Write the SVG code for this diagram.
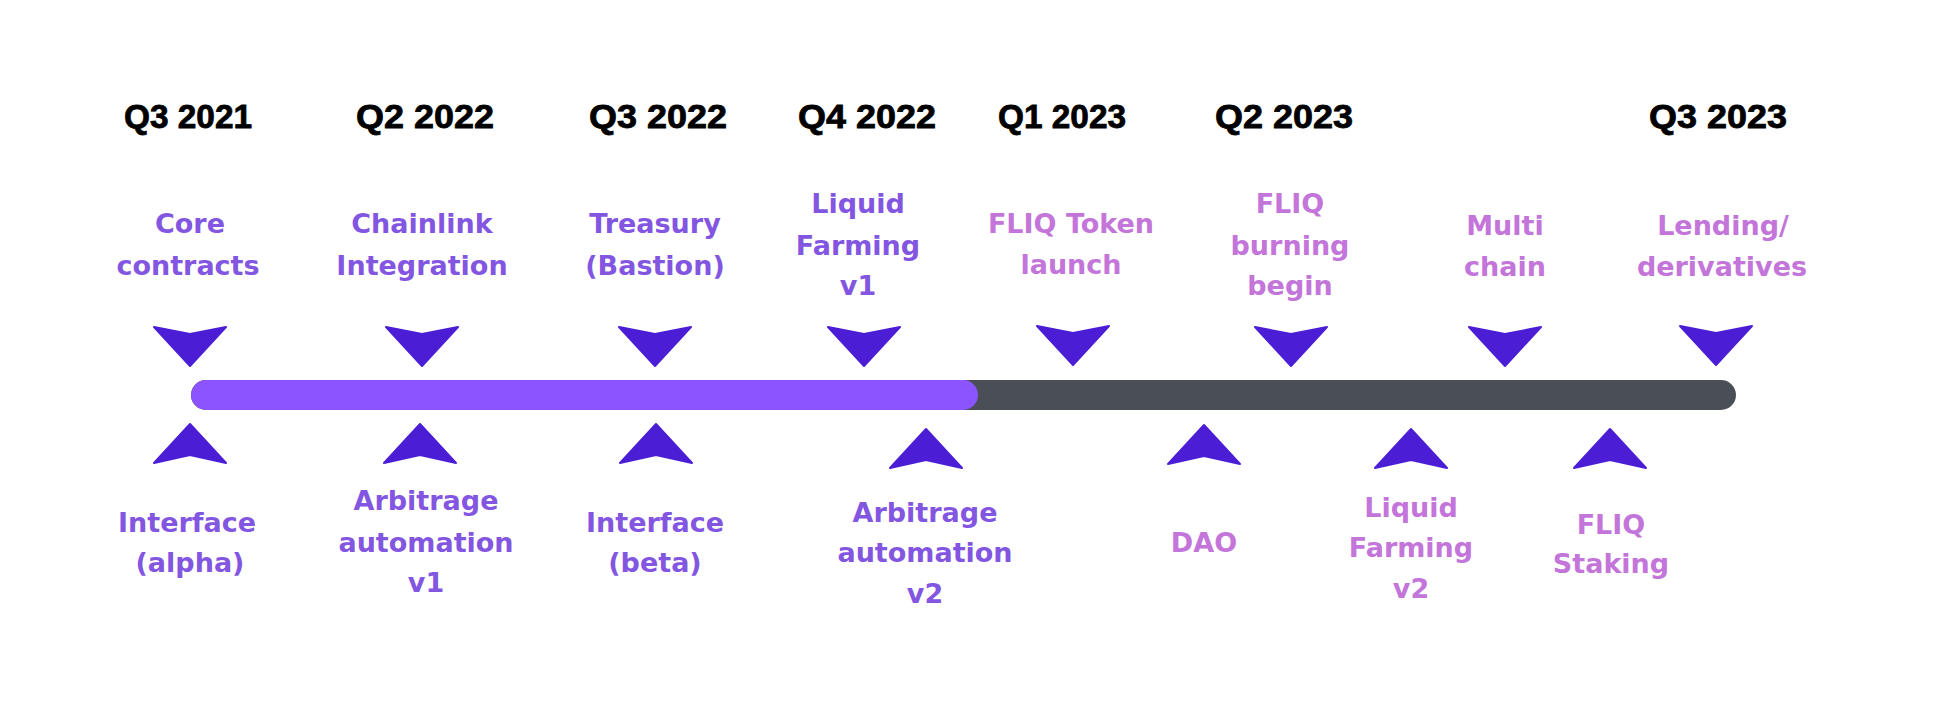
<svg xmlns="http://www.w3.org/2000/svg" xmlns:xlink="http://www.w3.org/1999/xlink" width="1934" height="716" viewBox="0 0 1934 716">
  <style>
    .date { font-family: "Liberation Sans", Arial, sans-serif; font-weight: bold; font-size: 34px; fill: #000000; stroke: #000000; stroke-width: 0.8; text-anchor: middle; }
    .lbl { font-family: "DejaVu Sans", "Liberation Sans", sans-serif; font-weight: bold; font-size: 27px; text-anchor: middle; }
    .done { fill: #8356E2; }
    .plan { fill: #C375DA; }
    .mark { fill: #4B1ED6; stroke: #4B1ED6; stroke-width: 2; stroke-linejoin: round; }
  </style>
  <defs>
    <!-- chevron markers pointing at the track -->
    <path id="down" d="M -36 0 L 0 7 L 36 0 L 0 39 Z"/>
    <path id="up" d="M -36 0 L 0 -8 L 36 0 L 0 -39 Z"/>
  </defs>

  <rect width="1934" height="716" fill="#ffffff"/>

  <!-- quarter headings -->
  <g id="quarters">
    <text class="date" x="188" y="128" textLength="128" lengthAdjust="spacingAndGlyphs">Q3 2021</text>
    <text class="date" x="425" y="128" textLength="138" lengthAdjust="spacingAndGlyphs">Q2 2022</text>
    <text class="date" x="658" y="128" textLength="138" lengthAdjust="spacingAndGlyphs">Q3 2022</text>
    <text class="date" x="867" y="128" textLength="138" lengthAdjust="spacingAndGlyphs">Q4 2022</text>
    <text class="date" x="1062" y="128" textLength="128" lengthAdjust="spacingAndGlyphs">Q1 2023</text>
    <text class="date" x="1284" y="128" textLength="138" lengthAdjust="spacingAndGlyphs">Q2 2023</text>
    <text class="date" x="1718" y="128" textLength="138" lengthAdjust="spacingAndGlyphs">Q3 2023</text>
  </g>

  <!-- progress track -->
  <g id="track">
    <rect x="191" y="380" width="1545" height="30" rx="15" fill="#4A4F57"/>
    <rect x="191" y="380" width="787" height="30" rx="15" fill="#8C54FF"/>
  </g>

  <!-- markers -->
  <g id="connectors" class="mark">
    <use xlink:href="#down" transform="translate(190,327)"/>
    <use xlink:href="#down" transform="translate(422,327)"/>
    <use xlink:href="#down" transform="translate(655,327)"/>
    <use xlink:href="#down" transform="translate(864,327)"/>
    <use xlink:href="#down" transform="translate(1073,326)"/>
    <use xlink:href="#down" transform="translate(1291,327)"/>
    <use xlink:href="#down" transform="translate(1505,327)"/>
    <use xlink:href="#down" transform="translate(1716,326)"/>

    <use xlink:href="#up" transform="translate(190,463)"/>
    <use xlink:href="#up" transform="translate(420,463)"/>
    <use xlink:href="#up" transform="translate(656,463)"/>
    <use xlink:href="#up" transform="translate(926,468)"/>
    <use xlink:href="#up" transform="translate(1204,464)"/>
    <use xlink:href="#up" transform="translate(1411,468)"/>
    <use xlink:href="#up" transform="translate(1610,468)"/>
  </g>

  <!-- milestones above the track -->
  <g id="core-contracts" class="lbl done">
    <text x="190" y="233">Core</text>
    <text x="188" y="275">contracts</text>
  </g>
  <g id="chainlink" class="lbl done">
    <text x="422" y="233">Chainlink</text>
    <text x="422" y="275">Integration</text>
  </g>
  <g id="treasury" class="lbl done">
    <text x="655" y="233">Treasury</text>
    <text x="655" y="275">(Bastion)</text>
  </g>
  <g id="liquid-farming-v1" class="lbl done">
    <text x="858" y="213">Liquid</text>
    <text x="858" y="255">Farming</text>
    <text x="858" y="295">v1</text>
  </g>
  <g id="fliq-token" class="lbl plan">
    <text x="1071" y="233">FLIQ Token</text>
    <text x="1071" y="274">launch</text>
  </g>
  <g id="fliq-burning" class="lbl plan">
    <text x="1290" y="213">FLIQ</text>
    <text x="1290" y="255">burning</text>
    <text x="1290" y="295">begin</text>
  </g>
  <g id="multichain" class="lbl plan">
    <text x="1505" y="235">Multi</text>
    <text x="1505" y="276">chain</text>
  </g>
  <g id="lending" class="lbl plan">
    <text x="1723" y="235">Lending/</text>
    <text x="1722" y="276">derivatives</text>
  </g>

  <!-- milestones below the track -->
  <g id="interface-alpha" class="lbl done">
    <text x="187" y="532">Interface</text>
    <text x="190" y="572">(alpha)</text>
  </g>
  <g id="arbitrage-v1" class="lbl done">
    <text x="426" y="510">Arbitrage</text>
    <text x="426" y="552">automation</text>
    <text x="426" y="592">v1</text>
  </g>
  <g id="interface-beta" class="lbl done">
    <text x="655" y="532">Interface</text>
    <text x="655" y="572">(beta)</text>
  </g>
  <g id="arbitrage-v2" class="lbl done">
    <text x="925" y="522">Arbitrage</text>
    <text x="925" y="562">automation</text>
    <text x="925" y="603">v2</text>
  </g>
  <g id="dao" class="lbl plan">
    <text x="1204" y="552">DAO</text>
  </g>
  <g id="liquid-farming-v2" class="lbl plan">
    <text x="1411" y="517">Liquid</text>
    <text x="1411" y="557">Farming</text>
    <text x="1411" y="598">v2</text>
  </g>
  <g id="fliq-staking" class="lbl plan">
    <text x="1611" y="534">FLIQ</text>
    <text x="1611" y="573">Staking</text>
  </g>
</svg>
